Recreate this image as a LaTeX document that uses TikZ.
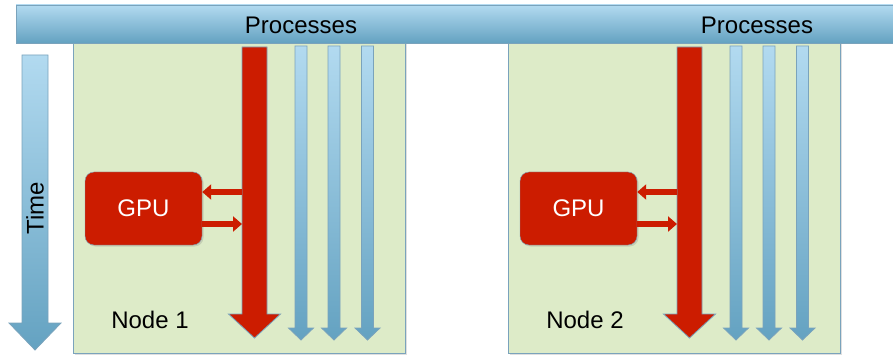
\documentclass[tikz,border=0pt]{standalone}
\usepackage{fontspec}
\setmainfont{Liberation Sans}
\usetikzlibrary{shadows,arrows.meta,calc}
\definecolor{nodegreen}{RGB}{221,235,200}
\definecolor{edgeblue}{RGB}{122,163,188}
\definecolor{procred}{RGB}{204,28,0}
\definecolor{lightblue}{RGB}{178,218,240}
\definecolor{darkblue}{RGB}{100,162,193}
% block arrow pointing down: style, x centre, y top, y tip, shaft half, head half, head length
\newcommand{\vproc}[7]{%
  \draw[#1] (#2-#5,#3) -- (#2+#5,#3) -- (#2+#5,#4-#7) -- (#2+#6,#4-#7)
    -- (#2,#4) -- (#2-#6,#4-#7) -- (#2-#5,#4-#7) -- cycle;}
\begin{document}
\begin{tikzpicture}[x=1pt,y=-1pt,
  font=\fontsize{24}{28}\selectfont,
  node box/.style={draw=edgeblue,fill=nodegreen,line width=1pt,
    drop shadow={opacity=0.25,shadow xshift=1.5pt,shadow yshift=-1.5pt}},
  blue proc/.style={draw=edgeblue,line width=0.8pt,top color=lightblue,bottom color=darkblue},
  red proc/.style={draw=edgeblue,line width=0.8pt,fill=procred},
  gpu box/.style={rectangle,rounded corners=9pt,fill=procred,draw=edgeblue,
    minimum width=117pt,minimum height=73pt,text=white,
    drop shadow={opacity=0.25,shadow xshift=1.5pt,shadow yshift=-1.5pt}},
  small arrow/.style={line width=6.5pt,draw=procred,-{Triangle[length=9pt,width=15pt]}}]

  \useasboundingbox (0,0) rectangle (893,358);

  % time axis
  \vproc{blue proc}{35}{55}{350}{13}{26}{27}
  \node[rotate=90] (time) at (35,208) {Time};

  \foreach \n/\dx in {1/0,2/435} {
    % compute node
    \draw[node box] (73+\dx,43) rectangle (405+\dx,353);
    \node (label\n) at (150+\dx,320) {Node \n};
    % processes
    \vproc{red proc}{254.5+\dx}{47}{338}{12.5}{26}{24}
    \vproc{blue proc}{301+\dx}{46}{340}{6}{12.5}{12}
    \vproc{blue proc}{334+\dx}{46}{340}{6}{12.5}{12}
    \vproc{blue proc}{367.5+\dx}{46}{340}{6}{12.5}{12}
    % gpu and its transfers
    \node[gpu box] (gpu\n) at (143.5+\dx,208.5) {GPU};
    \coordinate (send\n) at (242+\dx,192);
    \coordinate (recv\n) at (242+\dx,224);
    \draw[small arrow] (send\n) -- (send\n -| gpu\n.east);
    \draw[small arrow] (recv\n -| gpu\n.east) -- (recv\n);
  }

  % process bar
  \draw[draw=edgeblue,line width=0.8pt,top color=lightblue,bottom color=darkblue,
    drop shadow={opacity=0.25,shadow xshift=1.5pt,shadow yshift=-1.5pt}]
    (16,5) rectangle (897,43);
  \node (procs1) at (301,25) {Processes};
  \node (procs2) at (757,25) {Processes};
\end{tikzpicture}
\end{document}
